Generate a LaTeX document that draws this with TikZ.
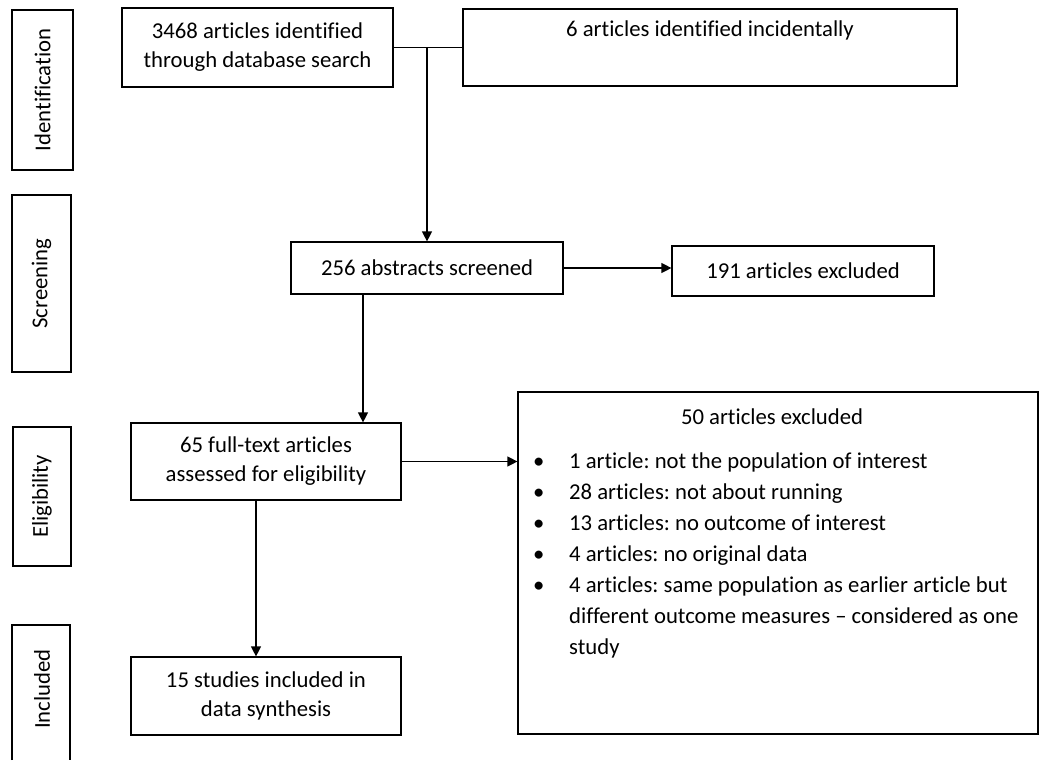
\documentclass[tikz,border=0pt]{standalone}
\usepackage{fontspec}
\setmainfont{Carlito}[Ligatures=NoCommon]
\frenchspacing
\usetikzlibrary{arrows.meta,calc}
\tikzset{
  box/.style={draw, line width=1.2pt, inner sep=0pt, align=center,
    font=\fontsize{22.7}{29}\selectfont},
  stage/.style={draw, line width=1.2pt, inner sep=0pt, rotate=90,
    font=\fontsize{22.7}{26}\selectfont},
  conn/.style={line width=1.2pt},
  arr/.style={line width=1.2pt, -{Triangle[length=10pt,width=10pt]}},
  txt/.style={inner sep=0pt, font=\fontsize{22.7}{31}\selectfont}
}
\begin{document}
\begin{tikzpicture}[x=1pt,y=-1pt]
\useasboundingbox (0,0) rectangle (1040,760);
% stage labels
\node[stage, minimum width=160, minimum height=61] (sI) at (42.5,90) {Identification};
\node[stage, minimum width=177, minimum height=59] (sS) at (41.5,283.5) {Screening};
\node[stage, minimum width=139, minimum height=58] (sE) at (42,496.5) {Eligibility};
\node[stage, draw=none] (sN) at (42,689) {Included};
\draw[conn] (12,760) |- (70,625) -- (70,760);
% flow boxes
\node[box, minimum width=271, minimum height=79] (A) at (257.5,47.5)
  {3468 articles identified\\through database search};
\node[box, minimum width=494, minimum height=77] (B) at (710,47.5)
  {6 articles identified incidentally\\\strut};
\node[box, minimum width=272, minimum height=52] (C) at (427,268)
  {256 abstracts screened};
\node[box, minimum width=262, minimum height=50] (D) at (803,271)
  {191 articles excluded};
\node[box, minimum width=270, minimum height=77] (E) at (266,461.5)
  {65 full-text articles\\assessed for eligibility};
\node[box, minimum width=270, minimum height=78] (G) at (266,696)
  {15 studies included in\\data synthesis};
\node[box, minimum width=520, minimum height=342] (F) at (778,563) {};
\node[txt] (Ft) at (772,417) {50 articles excluded};
\node[txt, anchor=base west] (Fl) at (533,468) {%
  \begin{tabular}[t]{@{}p{36pt}@{}l@{}}
  \textbullet & 1 article: not the population of interest\\
  \textbullet & 28 articles: not about running\\
  \textbullet & 13 articles: no outcome of interest\\
  \textbullet & 4 articles: no original data\\
  \textbullet & 4 articles: same population as earlier article but\\
   & different outcome measures – considered as one\\
   & study
  \end{tabular}};
% connectors
\coordinate (j) at (427,47.5);
\draw[conn] (A.east) -- (B.west);
\draw[arr] (j) -- (j |- C.north);
\draw[arr] (C.east) -- (C.east -| D.west);
\draw[arr] ([xshift=-64pt]C.south) -- ([xshift=-64pt]C.south |- E.north);
\draw[arr] (E.east) -- (E.east -| F.west);
\draw[arr] ([xshift=-10pt]E.south) -- ([xshift=-10pt]E.south |- G.north);
\end{tikzpicture}
\end{document}
